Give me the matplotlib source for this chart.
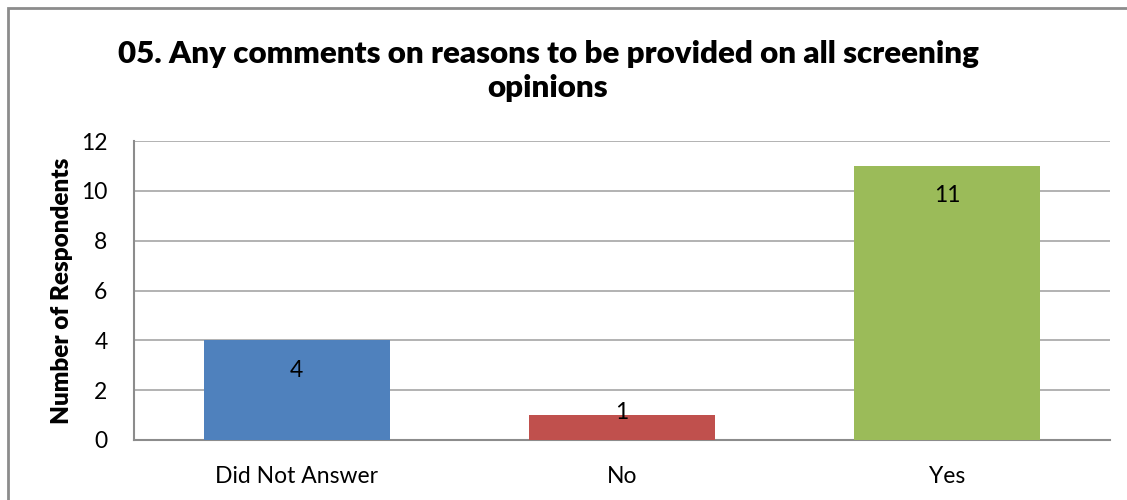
import matplotlib
matplotlib.use("Agg")
import matplotlib.pyplot as plt
from matplotlib.patches import Rectangle

# data
categories = ["Did Not Answer", "No", "Yes"]
counts = [4, 1, 11]
bar_colors = ["#4F81BD", "#C0504D", "#9BBB59"]
y_ticks = [0, 2, 4, 6, 8, 10, 12]

title = "05. Any comments on reasons to be provided on all screening\nopinions"

plt.rcParams['font.family'] = ['Lato', 'DejaVu Sans']

fig = plt.figure(figsize=(11.27, 5.0), dpi=100)
W, H = 1127, 500

# outer chart border (right/bottom cut off in the reference)
fig.patches.append(Rectangle((8 / W, -0.1), 1.2, 1 - 8 / H + 0.1, transform=fig.transFigure,
                             fill=False, edgecolor="#8c8c8c", linewidth=2))

ax = fig.add_axes([134 / W, 1 - 440 / H, (1110 - 134) / W, (440 - 141) / H])

x = list(range(len(categories)))
ax.bar(x, counts, width=0.572, color=bar_colors, zorder=3)

ax.set_xlim(-0.5, len(categories) - 0.5)
ax.set_ylim(0, 12)
ax.set_yticks(y_ticks)
ax.set_xticks(x)
ax.set_xticklabels(categories, fontsize=16.5)
ax.tick_params(axis='y', labelsize=16.5, length=0, pad=19)
ax.tick_params(axis='x', length=0, pad=19)

ax.grid(axis='y', color="#a6a6a6", linewidth=1.2, zorder=0)
for side in ['top', 'right']:
    ax.spines[side].set_visible(False)
for side in ['left', 'bottom']:
    ax.spines[side].set_color("#8c8c8c")
    ax.spines[side].set_linewidth(1.5)

ax.set_ylabel("Number of Respondents", fontsize=17.5, fontweight='heavy', labelpad=6)

# value labels, inside end of the bar
for xi, v in zip(x, counts):
    ax.text(xi, max(v - 1.2, 1.12), str(v), ha='center', va='center', fontsize=16.5, zorder=4)

fig.text(548 / W, 1 - 71 / H, title, ha='center', va='center', fontsize=22.5,
         fontweight='heavy', linespacing=1.27)

fig.savefig("out.png", dpi=100)
